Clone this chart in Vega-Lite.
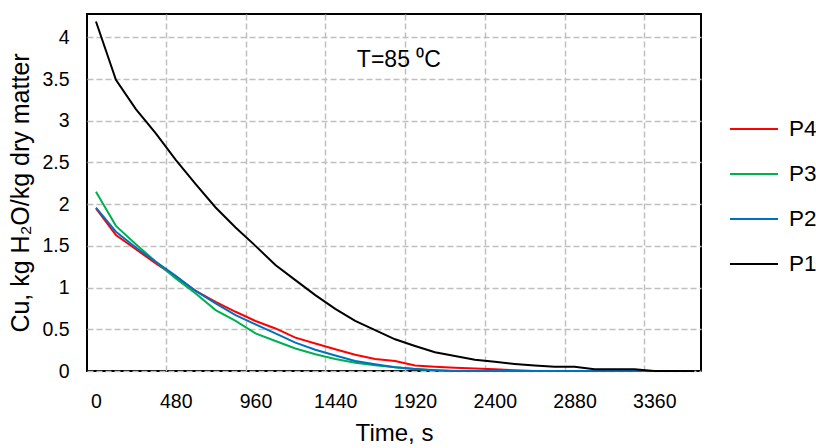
{
  "$schema": "https://vega.github.io/schema/vega-lite/v6.json",
  "width": 614,
  "height": 357,
  "autosize": {"type": "none"},
  "padding": {"left": 87, "top": 14, "right": 115, "bottom": 77},
  "config": {
    "font": "Liberation Sans",
    "view": {"stroke": "#000000", "strokeWidth": 2},
    "axis": {
      "labelColor": "#000000",
      "titleColor": "#000000",
      "labelFont": "Liberation Sans",
      "titleFont": "Liberation Sans",
      "titleFontWeight": "normal",
      "gridColor": "#BFBFBF",
      "gridDash": [6, 3],
      "gridWidth": 1.5
    },
    "legend": {
      "labelColor": "#000000",
      "labelFont": "Liberation Sans"
    }
  },
  "data": {
    "values": [
      {"series": "P4", "time": 0, "cu": 1.95},
      {"series": "P4", "time": 120, "cu": 1.63},
      {"series": "P4", "time": 240, "cu": 1.46},
      {"series": "P4", "time": 360, "cu": 1.29},
      {"series": "P4", "time": 480, "cu": 1.13},
      {"series": "P4", "time": 600, "cu": 0.96},
      {"series": "P4", "time": 720, "cu": 0.83},
      {"series": "P4", "time": 840, "cu": 0.71},
      {"series": "P4", "time": 960, "cu": 0.6},
      {"series": "P4", "time": 1080, "cu": 0.51},
      {"series": "P4", "time": 1200, "cu": 0.4},
      {"series": "P4", "time": 1320, "cu": 0.33},
      {"series": "P4", "time": 1440, "cu": 0.26},
      {"series": "P4", "time": 1560, "cu": 0.195},
      {"series": "P4", "time": 1680, "cu": 0.145},
      {"series": "P4", "time": 1800, "cu": 0.12},
      {"series": "P4", "time": 1920, "cu": 0.065},
      {"series": "P4", "time": 2040, "cu": 0.05},
      {"series": "P4", "time": 2160, "cu": 0.04},
      {"series": "P4", "time": 2280, "cu": 0.03},
      {"series": "P4", "time": 2400, "cu": 0.02},
      {"series": "P4", "time": 2520, "cu": 0.01},
      {"series": "P4", "time": 2640, "cu": 0},
      {"series": "P4", "time": 2760, "cu": 0},
      {"series": "P4", "time": 2880, "cu": 0},
      {"series": "P4", "time": 3000, "cu": 0},
      {"series": "P4", "time": 3120, "cu": 0},
      {"series": "P4", "time": 3240, "cu": 0},
      {"series": "P4", "time": 3360, "cu": 0},
      {"series": "P4", "time": 3480, "cu": 0},
      {"series": "P4", "time": 3600, "cu": 0},
      {"series": "P3", "time": 0, "cu": 2.15},
      {"series": "P3", "time": 120, "cu": 1.74},
      {"series": "P3", "time": 240, "cu": 1.52},
      {"series": "P3", "time": 360, "cu": 1.31},
      {"series": "P3", "time": 480, "cu": 1.11},
      {"series": "P3", "time": 600, "cu": 0.93},
      {"series": "P3", "time": 720, "cu": 0.73},
      {"series": "P3", "time": 840, "cu": 0.6},
      {"series": "P3", "time": 960, "cu": 0.45},
      {"series": "P3", "time": 1080, "cu": 0.36},
      {"series": "P3", "time": 1200, "cu": 0.27},
      {"series": "P3", "time": 1320, "cu": 0.2},
      {"series": "P3", "time": 1440, "cu": 0.145},
      {"series": "P3", "time": 1560, "cu": 0.1},
      {"series": "P3", "time": 1680, "cu": 0.07},
      {"series": "P3", "time": 1800, "cu": 0.045},
      {"series": "P3", "time": 1920, "cu": 0.025},
      {"series": "P3", "time": 2040, "cu": 0.01},
      {"series": "P3", "time": 2160, "cu": 0},
      {"series": "P3", "time": 2280, "cu": 0},
      {"series": "P3", "time": 2400, "cu": 0},
      {"series": "P3", "time": 2520, "cu": 0},
      {"series": "P3", "time": 2640, "cu": 0},
      {"series": "P3", "time": 2760, "cu": 0},
      {"series": "P3", "time": 2880, "cu": 0},
      {"series": "P3", "time": 3000, "cu": 0},
      {"series": "P3", "time": 3120, "cu": 0},
      {"series": "P3", "time": 3240, "cu": 0},
      {"series": "P3", "time": 3360, "cu": 0},
      {"series": "P3", "time": 3480, "cu": 0},
      {"series": "P3", "time": 3600, "cu": 0},
      {"series": "P2", "time": 0, "cu": 1.96},
      {"series": "P2", "time": 120, "cu": 1.67},
      {"series": "P2", "time": 240, "cu": 1.48},
      {"series": "P2", "time": 360, "cu": 1.31},
      {"series": "P2", "time": 480, "cu": 1.14},
      {"series": "P2", "time": 600, "cu": 0.96},
      {"series": "P2", "time": 720, "cu": 0.81},
      {"series": "P2", "time": 840, "cu": 0.67},
      {"series": "P2", "time": 960, "cu": 0.56},
      {"series": "P2", "time": 1080, "cu": 0.45},
      {"series": "P2", "time": 1200, "cu": 0.34},
      {"series": "P2", "time": 1320, "cu": 0.255},
      {"series": "P2", "time": 1440, "cu": 0.185},
      {"series": "P2", "time": 1560, "cu": 0.12},
      {"series": "P2", "time": 1680, "cu": 0.08},
      {"series": "P2", "time": 1800, "cu": 0.045},
      {"series": "P2", "time": 1920, "cu": 0.025},
      {"series": "P2", "time": 2040, "cu": 0.01},
      {"series": "P2", "time": 2160, "cu": 0},
      {"series": "P2", "time": 2280, "cu": 0},
      {"series": "P2", "time": 2400, "cu": 0},
      {"series": "P2", "time": 2520, "cu": 0},
      {"series": "P2", "time": 2640, "cu": 0},
      {"series": "P2", "time": 2760, "cu": 0},
      {"series": "P2", "time": 2880, "cu": 0},
      {"series": "P2", "time": 3000, "cu": 0},
      {"series": "P2", "time": 3120, "cu": 0},
      {"series": "P2", "time": 3240, "cu": 0},
      {"series": "P2", "time": 3360, "cu": 0},
      {"series": "P2", "time": 3480, "cu": 0},
      {"series": "P2", "time": 3600, "cu": 0},
      {"series": "P1", "time": 0, "cu": 4.19},
      {"series": "P1", "time": 120, "cu": 3.49},
      {"series": "P1", "time": 240, "cu": 3.14},
      {"series": "P1", "time": 360, "cu": 2.85},
      {"series": "P1", "time": 480, "cu": 2.53},
      {"series": "P1", "time": 600, "cu": 2.24},
      {"series": "P1", "time": 720, "cu": 1.96},
      {"series": "P1", "time": 840, "cu": 1.72},
      {"series": "P1", "time": 960, "cu": 1.5},
      {"series": "P1", "time": 1080, "cu": 1.27},
      {"series": "P1", "time": 1200, "cu": 1.09},
      {"series": "P1", "time": 1320, "cu": 0.91},
      {"series": "P1", "time": 1440, "cu": 0.745},
      {"series": "P1", "time": 1560, "cu": 0.6},
      {"series": "P1", "time": 1680, "cu": 0.49},
      {"series": "P1", "time": 1800, "cu": 0.38},
      {"series": "P1", "time": 1920, "cu": 0.3},
      {"series": "P1", "time": 2040, "cu": 0.225},
      {"series": "P1", "time": 2160, "cu": 0.18},
      {"series": "P1", "time": 2280, "cu": 0.135},
      {"series": "P1", "time": 2400, "cu": 0.11},
      {"series": "P1", "time": 2520, "cu": 0.085},
      {"series": "P1", "time": 2640, "cu": 0.065},
      {"series": "P1", "time": 2760, "cu": 0.05},
      {"series": "P1", "time": 2880, "cu": 0.05},
      {"series": "P1", "time": 3000, "cu": 0.02},
      {"series": "P1", "time": 3120, "cu": 0.02},
      {"series": "P1", "time": 3240, "cu": 0.02},
      {"series": "P1", "time": 3360, "cu": 0},
      {"series": "P1", "time": 3480, "cu": 0},
      {"series": "P1", "time": 3600, "cu": 0}
    ]
  },
  "layer": [
    {
      "mark": {"type": "line", "strokeWidth": 2},
      "encoding": {
        "x": {
          "field": "time",
          "type": "quantitative",
          "scale": {"domain": [-54, 3641], "nice": false, "zero": false},
          "axis": {
            "values": [0, 480, 960, 1440, 1920, 2400, 2880, 3360],
            "format": "d",
            "grid": false,
            "ticks": false,
            "domain": false,
            "labelFontSize": 19.5,
            "labelPadding": 21,
            "title": "Time, s",
            "titleFontSize": 24,
            "titlePadding": 11
          }
        },
        "y": {
          "field": "cu",
          "type": "quantitative",
          "scale": {"domain": [0, 4.28], "nice": false},
          "axis": {
            "values": [0, 0.5, 1, 1.5, 2, 2.5, 3, 3.5, 4],
            "format": "~g",
            "grid": true,
            "ticks": false,
            "domain": false,
            "labelFontSize": 19.5,
            "labelPadding": 18,
            "title": "Cu, kg H₂O/kg dry matter",
            "titleFontSize": 25,
            "titlePadding": 8
          }
        },
        "color": {
          "field": "series",
          "type": "nominal",
          "scale": {
            "domain": ["P4", "P3", "P2", "P1"],
            "range": ["#FF0000", "#00B050", "#0070C0", "#000000"]
          },
          "legend": {
            "title": null,
            "orient": "none",
            "legendX": 642,
            "legendY": 90,
            "padding": 0,
            "symbolType": "stroke",
            "symbolSize": 2304,
            "symbolStrokeWidth": 2,
            "labelFontSize": 22.5,
            "labelOffset": 10,
            "rowPadding": 8
          }
        }
      }
    },
    {
      "data": {"values": [{"note": "T=85 ⁰C", "time": 1570, "cu": 3.64}]},
      "mark": {"type": "text", "align": "left", "baseline": "alphabetic", "fontSize": 23, "color": "#000000"},
      "encoding": {
        "x": {
          "field": "time",
          "type": "quantitative",
          "axis": {
            "values": [420, 900, 1380, 1860, 2340, 2820, 3300],
            "grid": true,
            "labels": false,
            "ticks": false,
            "domain": false,
            "title": null
          }
        },
        "y": {"field": "cu", "type": "quantitative"},
        "text": {"field": "note"}
      }
    }
  ],
  "resolve": {"axis": {"x": "independent"}}
}
